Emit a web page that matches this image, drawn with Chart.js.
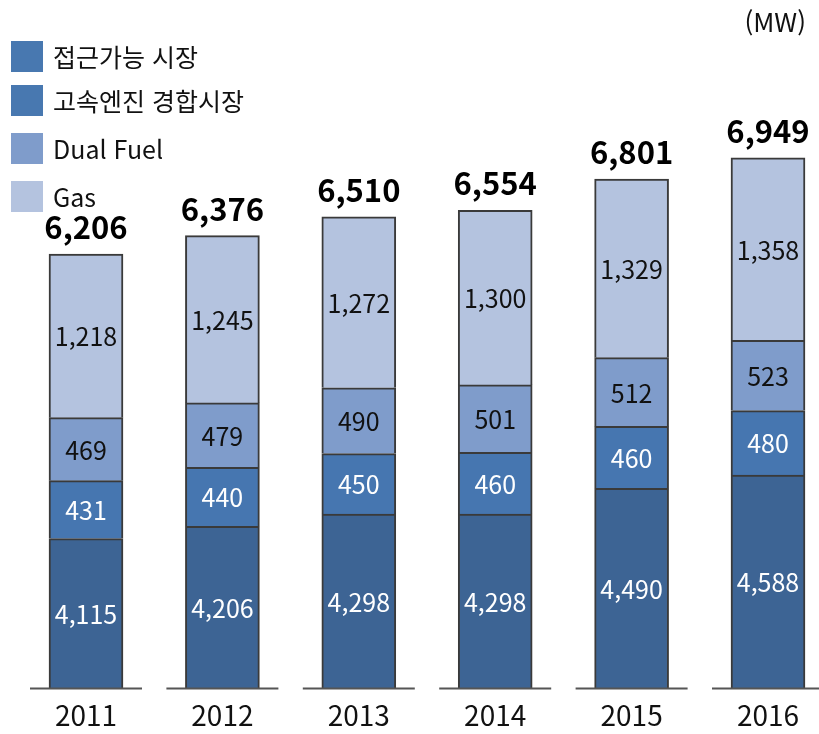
<!DOCTYPE html>
<html lang="ko">
<head>
<meta charset="utf-8">
<script src="https://cdn.jsdelivr.net/npm/chart.js@4.4.1/dist/chart.umd.min.js"></script>
<style>
    html, body { margin: 0; padding: 0; background: #fff; overflow: hidden; }
    #wrap { position: relative; width: 819px; height: 734px; }
    #myChart { position: absolute; left: 0; top: 0; }
    #legend { position: absolute; left: 11px; top: 0; font-family: "Noto Sans CJK KR", "Noto Sans", sans-serif; font-size: 25px; color: #111; }
    .item { position: absolute; left: 0; display: flex; align-items: center; white-space: nowrap; }
    .box { width: 32px; height: 31px; margin-right: 10px; }
    #unit { position: absolute; right: 13px; top: 2px; font-family: "Noto Sans CJK KR", "Noto Sans", sans-serif; font-size: 26px; color: #111; }
</style>
</head>
<body>
<div id="wrap">
    <canvas id="myChart" width="819" height="734"></canvas>
    <div id="legend"></div>
    <div id="unit">(MW)</div>
</div>
<script>
// dados
const anos = ['2011', '2012', '2013', '2014', '2015', '2016'];
const acessivel = [4115, 4206, 4298, 4298, 4490, 4588];
const altaVelocidade = [431, 440, 450, 460, 460, 480];
const dualFuel = [469, 479, 490, 501, 512, 523];
const gas = [1218, 1245, 1272, 1300, 1329, 1358];
const totais = [6206, 6376, 6510, 6554, 6801, 6949];
const nomes = ['접근가능 시장', '고속엔진 경합시장', 'Dual Fuel', 'Gas'];

const coresBarra = ['#3d6494', '#4676b0', '#7f9ccb', '#b4c3df'];
const coresLegenda = ['#4878b0', '#4878b0', '#7f9ccb', '#b4c3df'];
const corTexto = ['#ffffff', '#ffffff', '#111111', '#111111'];
const fonte = '"Noto Sans CJK KR", "Noto Sans", sans-serif';

document.addEventListener("DOMContentLoaded", function () {
    const ctx = document.getElementById('myChart').getContext('2d');
    const series = [acessivel, altaVelocidade, dualFuel, gas];

    const datasets = series.map((dados, i) => ({
        label: nomes[i],
        data: dados,
        backgroundColor: coresBarra[i],
        borderColor: '#3a3a3a',
        borderWidth: 2,
        barThickness: 74,
        clip: { left: false, right: false, top: false, bottom: 0 }
    }));

    // rótulos dentro das barras, totais e linhas de base
    const rotulos = {
        id: 'rotulos',
        afterDatasetsDraw(chart) {
            const c = chart.ctx;
            const area = chart.chartArea;
            c.save();
            // linhas de base curtas sob cada barra
            c.strokeStyle = '#555';
            c.lineWidth = 2;
            chart.getDatasetMeta(0).data.forEach(bar => {
                c.beginPath();
                c.moveTo(bar.x - 56, area.bottom);
                c.lineTo(bar.x + 56, area.bottom);
                c.stroke();
            });
            c.textAlign = 'center';
            c.textBaseline = 'middle';
            c.font = '25px ' + fonte;
            chart.data.datasets.forEach((ds, i) => {
                chart.getDatasetMeta(i).data.forEach((bar, j) => {
                    const base = Math.min(bar.base, area.bottom);
                    c.fillStyle = corTexto[i];
                    c.fillText(ds.data[j].toLocaleString('en-US'), bar.x, (bar.y + base) / 2 + 1);
                });
            });
            const topo = chart.getDatasetMeta(series.length - 1).data;
            c.font = 'bold 31px ' + fonte;
            c.fillStyle = '#000';
            c.textBaseline = 'alphabetic';
            topo.forEach((bar, j) => {
                c.fillText(totais[j].toLocaleString('en-US'), bar.x, bar.y - 15);
            });
            c.restore();
        }
    };

    const myChart = new Chart(ctx, {
        type: 'bar',
        data: { labels: anos, datasets: datasets },
        options: {
            responsive: false,
            animation: false,
            layout: { padding: { left: 86, right: 51, top: 151, bottom: 0 } },
            scales: {
                x: {
                    stacked: true,
                    offset: false,
                    grid: { display: false },
                    border: { display: false },
                    ticks: {
                        color: '#111',
                        font: { family: fonte, size: 28 },
                        padding: 2,
                        maxRotation: 0
                    }
                },
                y: {
                    stacked: true,
                    display: false,
                    min: 3000,
                    max: 7000
                }
            },
            plugins: {
                legend: { display: false },
                tooltip: { enabled: false }
            }
        },
        plugins: [rotulos]
    });

    // legenda em HTML
    const legenda = document.getElementById('legend');
    const topos = [38, 82, 130, 178];
    nomes.forEach((nome, i) => {
        const item = document.createElement('div');
        item.classList.add('item');
        item.style.top = topos[i] + 'px';
        item.innerHTML = `<span class="box" style="background:${coresLegenda[i]}"></span><span>${nome}</span>`;
        legenda.appendChild(item);
    });
});
</script>
</body>
</html>
